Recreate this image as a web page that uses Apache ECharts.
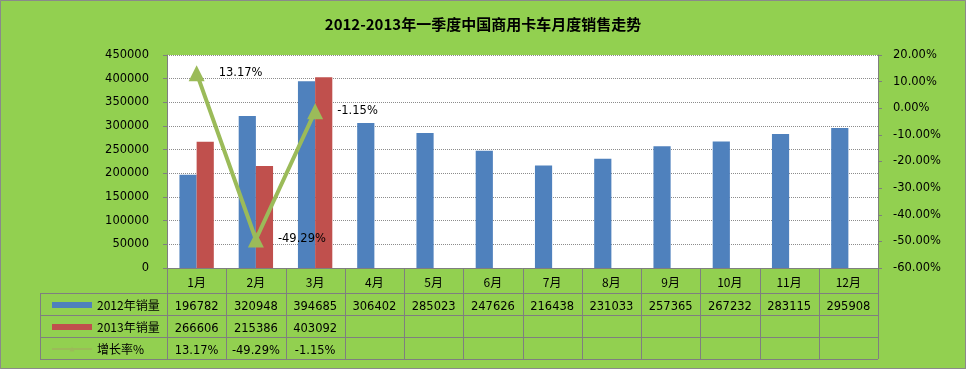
<!DOCTYPE html>
<html><head><meta charset="utf-8">
<script src="https://cdn.jsdelivr.net/npm/echarts@6/dist/echarts.min.js"></script>
<style>html,body{margin:0;padding:0;background:#92D050}#c{width:966px;height:369px}</style>
</head><body><div id="c"></div>
<script>
const categories = ['1月','2月','3月','4月','5月','6月','7月','8月','9月','10月','11月','12月'];
const sales2012 = [196782,320948,394685,306402,285023,247626,216438,231033,257365,267232,283115,295908];
const sales2013 = [266606,215386,403092,null,null,null,null,null,null,null,null,null];
const growth = [13.17,-49.29,-1.15,null,null,null,null,null,null,null,null,null];
const leftTicks = {min:0,max:450000,interval:50000};
const rightTicks = {min:-60,max:20,interval:10};
const seriesNames = ['2012年销量','2013年销量','增长率%'];
const titleText = '2012-2013年一季度中国商用卡车月度销售走势';

const G = {left:167, right:88, top:55, bottom:101};
const W = 966, H = 369;
const font = '"DejaVu Sans", Verdana, sans-serif';
const cjk = '"Noto Sans CJK SC", "DejaVu Sans", sans-serif';

function fmtPct(v){ return v==null ? '' : v.toFixed(2)+'%'; }

const chart = echarts.init(document.getElementById('c'), null, {renderer:'canvas'});

const gx0 = G.left, gx1 = W - G.right, gy = H - G.bottom;
const colW = (gx1-gx0)/categories.length;
const rowY = [gy, gy+25, gy+47, gy+69, gy+91];
const lines = [];
const lineStyle = {stroke:'#7f7f7f', lineWidth:1};
for (let r=1;r<rowY.length;r++){
  lines.push({type:'line', shape:{x1:40,y1:rowY[r]+0.5,x2:gx1,y2:rowY[r]+0.5}, style:lineStyle, silent:true});
}
for (let i=0;i<=categories.length;i++){
  const x = Math.round(gx0 + i*colW)+0.5;
  lines.push({type:'line', shape:{x1:x,y1:gy,x2:x,y2:rowY[4]}, style:lineStyle, silent:true});
}
lines.push({type:'line', shape:{x1:40.5,y1:rowY[1],x2:40.5,y2:rowY[4]}, style:lineStyle, silent:true});
lines.push({type:'rect', shape:{x:0.5,y:0.5,width:W-1,height:H-1}, style:{fill:null, stroke:'#8a8a8a', lineWidth:1}, silent:true});

const option = {
  backgroundColor:'#92D050',
  animation:false,
  title:{text:titleText, left:'center', top:12, textStyle:{fontFamily:cjk, fontSize:15, fontWeight:'bold', color:'#000'}},
  legend:{
    orient:'vertical', left:46, top:293, itemGap:8, itemWidth:40, itemHeight:6,
    textStyle:{fontFamily:cjk, fontSize:12, color:'#000', lineHeight:14},
    data:[{name:seriesNames[0], icon:'rect'},{name:seriesNames[1], icon:'rect'},{name:seriesNames[2]}]
  },
  grid:{left:G.left, right:G.right, top:G.top, bottom:G.bottom, show:true, backgroundColor:'#fff', borderWidth:0},
  xAxis:{
    type:'category', data:categories,
    axisLine:{show:true, lineStyle:{color:'#7f7f7f'}},
    axisTick:{show:false},
    axisLabel:{
      interval:0, margin:0,
      formatter:function(v, i){
        const a = sales2012[i]==null?'':sales2012[i];
        const b = sales2013[i]==null?'':sales2013[i];
        const c = fmtPct(growth[i]);
        return '{c|'+v+'}\n{n|'+a+'}\n{n|'+b+'}\n{n|'+c+'}';
      },
      rich:{
        c:{fontFamily:cjk, fontSize:12, color:'#000', lineHeight:28, height:28},
        n:{fontFamily:font, fontSize:11.5, color:'#000', lineHeight:22, height:22}
      }
    }
  },
  yAxis:[
    {type:'value', min:leftTicks.min, max:leftTicks.max, interval:leftTicks.interval,
     axisLine:{show:true, lineStyle:{color:'#7f7f7f'}},
     axisTick:{show:true, length:4, lineStyle:{color:'#7f7f7f'}},
     axisLabel:{fontFamily:font, fontSize:11.5, color:'#000', margin:18, formatter:function(v){return String(v);}},
     splitLine:{show:true, lineStyle:{color:'#8c8c8c', type:'dotted', width:1}}},
    {type:'value', min:rightTicks.min, max:rightTicks.max, interval:rightTicks.interval,
     axisLine:{show:true, lineStyle:{color:'#7f7f7f'}},
     axisTick:{show:true, length:4, lineStyle:{color:'#7f7f7f'}},
     axisLabel:{fontFamily:font, fontSize:11.5, color:'#000', margin:15, formatter:function(v){return v.toFixed(2)+'%';}},
     splitLine:{show:false}}
  ],
  series:[
    {name:seriesNames[0], type:'bar', data:sales2012, barGap:'0%', barCategoryGap:'42%',
     itemStyle:{color:'#4F81BD'}},
    {name:seriesNames[1], type:'bar', data:sales2013,
     itemStyle:{color:'#C0504D'}},
    {name:seriesNames[2], type:'line', yAxisIndex:1, data:growth, connectNulls:false,
     symbol:'triangle', symbolSize:16,
     lineStyle:{color:'#9BBB59', width:4},
     itemStyle:{color:'#9BBB59'},
     label:{show:true, position:'right', distance:14, fontFamily:font, fontSize:11.5, color:'#000',
            formatter:function(p){return fmtPct(p.value);}}}
  ],
  graphic:lines
};
chart.setOption(option);
</script>
</body></html>
